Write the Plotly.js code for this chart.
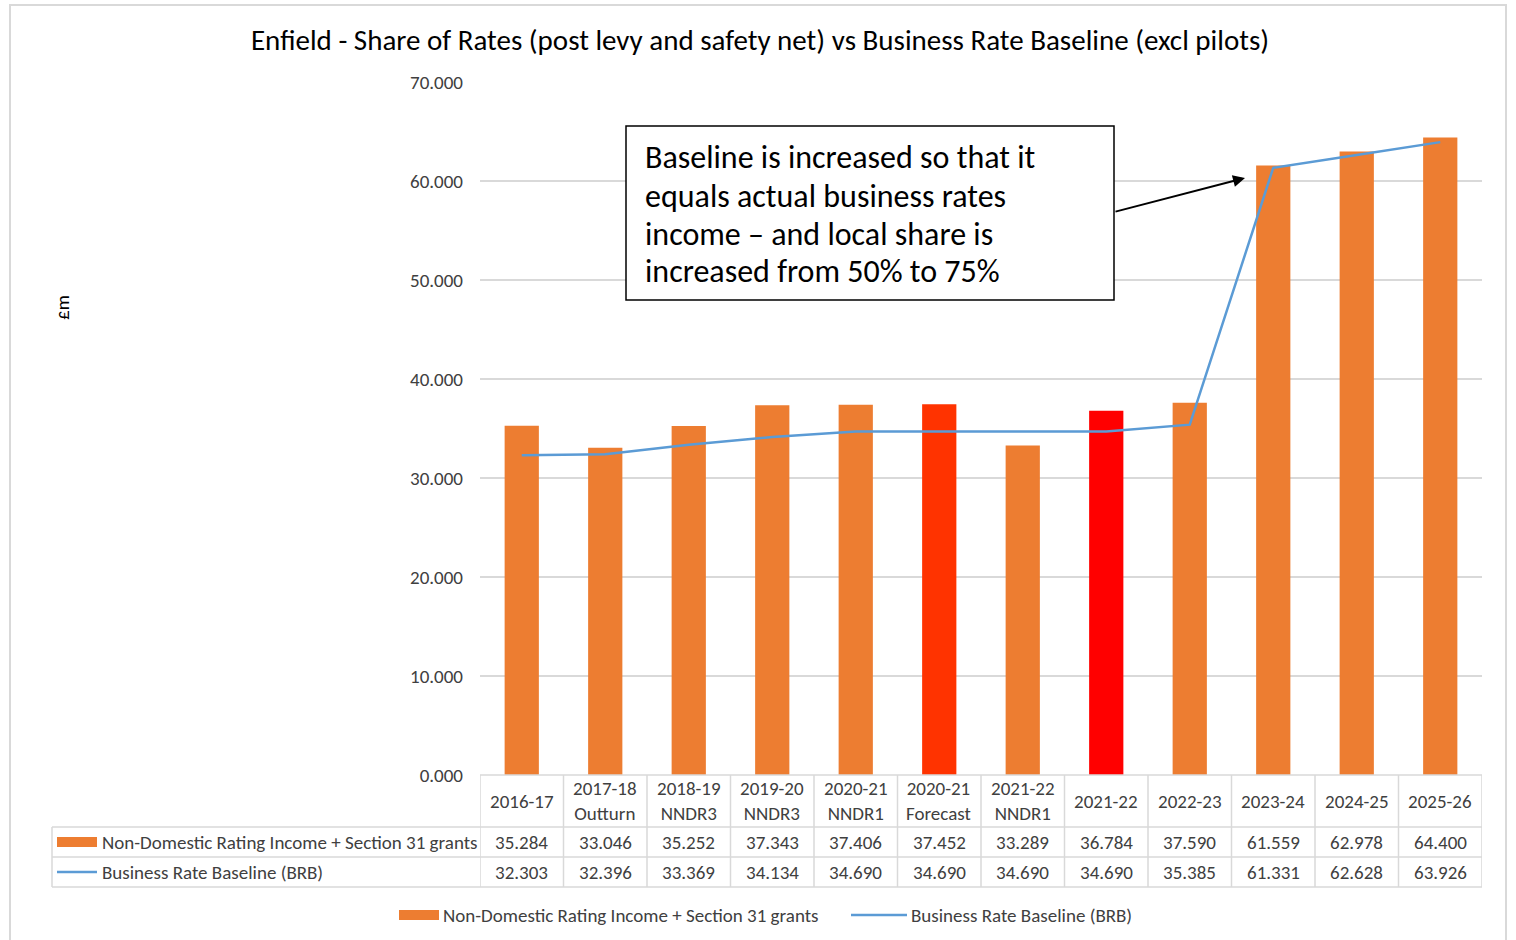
<!DOCTYPE html>
<html><head><meta charset="utf-8">
<script src="https://cdn.plot.ly/plotly-3.0.1.min.js"></script>
<style>html,body{margin:0;padding:0;background:#fff}#chart{width:1516px;height:940px}</style>
</head><body><div id="chart"></div>
<script>
// ---- data ----
const categories = ["2016-17", "2017-18<br>Outturn", "2018-19<br>NNDR3", "2019-20<br>NNDR3", "2020-21<br>NNDR1", "2020-21<br>Forecast", "2021-22<br>NNDR1", "2021-22", "2022-23", "2023-24", "2024-25", "2025-26"];
const incomeName = "Non-Domestic Rating Income + Section 31 grants";
const incomeValues = [35.284, 33.046, 35.252, 37.343, 37.406, 37.452, 33.289, 36.784, 37.590, 61.559, 62.978, 64.400];
const baselineName = "Business Rate Baseline (BRB)";
const baselineValues = [32.303, 32.396, 33.369, 34.134, 34.690, 34.690, 34.690, 34.690, 35.385, 61.331, 62.628, 63.926];
const titleText = "Enfield - Share of Rates (post levy and safety net) vs Business Rate Baseline (excl pilots)";
const yTitle = "£m";
const noteLines = ["Baseline is increased so that it", "equals actual business rates", "income \u2013 and local share is", "increased from 50% to 75%"];

// ---- style ----
const ORANGE = "#ED7D31", BLUE = "#5B9BD5", GRID = "#D9D9D9", TXT = "#404040";
const barColors = [ORANGE, ORANGE, ORANGE, ORANGE, ORANGE, "#FF3300", ORANGE, "#FF0000", ORANGE, ORANGE, ORANGE, ORANGE];
const FONT = "Carlito, Lato, sans-serif";
const L = 480, R = 1482, T = 82, B = 775, W = 1516, H = 940;
const X = p => (p - L) / (R - L);
const Y = p => (B - p) / (B - T);

const xs = categories.map((_, i) => i);

const traces = [
  {type: "bar", x: xs, y: incomeValues, name: incomeName, marker: {color: barColors}, width: 0.41, showlegend: false, hoverinfo: "y"},
  {type: "scatter", mode: "lines", x: xs, y: baselineValues, name: baselineName, line: {color: BLUE, width: 2.5}, showlegend: false, hoverinfo: "y"}
];

const shapes = [];
const annotations = [];
const line = (x0, y0, x1, y1, color, w) => shapes.push({type: "line", xref: "paper", yref: "paper", x0: X(x0), y0: Y(y0), x1: X(x1), y1: Y(y1), line: {color: color, width: w}});

// outer chart border
shapes.push({type: "rect", xref: "paper", yref: "paper", x0: X(10), y0: Y(5), x1: X(1506), y1: Y(960), line: {color: GRID, width: 2}, layer: "below"});

// data table grid
const rowTop = 775, rowH1 = 827, rowH2 = 857, rowH3 = 887, tblLeft = 52;
line(L, rowTop, R, rowTop, GRID, 1.5);
[rowH1, rowH2, rowH3].forEach(yy => line(tblLeft, yy, R, yy, GRID, 1.5));
line(tblLeft, rowH1, tblLeft, rowH3, GRID, 1.5);
for (let i = 0; i <= categories.length; i++) {
  shapes.push({type: "line", xref: "x", yref: "paper", x0: i - 0.5, x1: i - 0.5, y0: Y(rowTop), y1: Y(rowH3), line: {color: GRID, width: 1.5}});
}
const tf = {family: FONT, size: 19, color: TXT};
categories.forEach((c, i) => {
  annotations.push({xref: "x", yref: "paper", x: i, y: Y((rowTop + rowH1) / 2), text: c, showarrow: false, font: tf, xanchor: "center", yanchor: "middle", align: "center"});
  annotations.push({xref: "x", yref: "paper", x: i, y: Y((rowH1 + rowH2) / 2), text: incomeValues[i].toFixed(3), showarrow: false, font: tf, xanchor: "center", yanchor: "middle"});
  annotations.push({xref: "x", yref: "paper", x: i, y: Y((rowH2 + rowH3) / 2), text: baselineValues[i].toFixed(3), showarrow: false, font: tf, xanchor: "center", yanchor: "middle"});
});
// table legend keys
shapes.push({type: "rect", xref: "paper", yref: "paper", x0: X(57), x1: X(97), y0: Y(837), y1: Y(847), fillcolor: ORANGE, line: {width: 0}});
line(57, 872, 97, 872, BLUE, 2.5);
annotations.push({xref: "paper", yref: "paper", x: X(100), y: Y(842), text: incomeName, showarrow: false, font: tf, xanchor: "left", yanchor: "middle"});
annotations.push({xref: "paper", yref: "paper", x: X(100), y: Y(872), text: baselineName, showarrow: false, font: tf, xanchor: "left", yanchor: "middle"});

// bottom legend
shapes.push({type: "rect", xref: "paper", yref: "paper", x0: X(399), x1: X(439), y0: Y(910), y1: Y(920), fillcolor: ORANGE, line: {width: 0}});
annotations.push({xref: "paper", yref: "paper", x: X(441), y: Y(915), text: incomeName, showarrow: false, font: tf, xanchor: "left", yanchor: "middle"});
line(851, 915, 907, 915, BLUE, 2.5);
annotations.push({xref: "paper", yref: "paper", x: X(909), y: Y(915), text: baselineName, showarrow: false, font: tf, xanchor: "left", yanchor: "middle"});

// y title
annotations.push({xref: "paper", yref: "paper", x: X(62), y: Y(308), text: yTitle, showarrow: false, textangle: -90, font: {family: FONT, size: 19, color: "#000"}, xanchor: "center", yanchor: "middle"});

// note box
shapes.push({type: "rect", xref: "paper", yref: "paper", x0: X(626), x1: X(1114), y0: Y(126), y1: Y(300), fillcolor: "#fff", line: {color: "#000", width: 1.5}});
const noteY = [157, 196, 234, 271];
noteLines.forEach((t, k) => annotations.push({xref: "paper", yref: "paper", x: X(643), y: Y(noteY[k]), text: t, showarrow: false, font: {family: FONT, size: 32, color: "#000"}, xanchor: "left", yanchor: "middle"}));
// arrow
annotations.push({xref: "paper", yref: "paper", x: X(1245), y: Y(178), ax: X(1114), ay: Y(212), axref: "paper", ayref: "paper", text: "", showarrow: true, arrowhead: 2, arrowsize: 1.2, arrowwidth: 2, arrowcolor: "#000", standoff: 0});

const layout = {
  width: W, height: H,
  margin: {l: L, r: W - R, t: T, b: H - B, pad: 0},
  paper_bgcolor: "#fff", plot_bgcolor: "#fff",
  title: {text: titleText, font: {family: FONT, size: 29, color: "#000"}, x: 760 / W, xref: "container", xanchor: "center", y: 1 - 40 / H, yref: "container", yanchor: "middle"},
  font: {family: FONT},
  xaxis: {range: [-0.5, categories.length - 0.5], showticklabels: false, showgrid: false, zeroline: false, showline: false, ticks: "", fixedrange: true},
  yaxis: {range: [0, 70], dtick: 10, tickformat: ".3f", showgrid: true, gridcolor: GRID, gridwidth: 1.5, zeroline: false, showline: false, ticks: "", ticklabelstandoff: 16, tickfont: {family: FONT, size: 19, color: TXT}, fixedrange: true},
  bargap: 0.59,
  shapes: shapes,
  annotations: annotations,
  showlegend: false
};
Plotly.newPlot("chart", traces, layout, {displayModeBar: false, staticPlot: true});
</script></body></html>
